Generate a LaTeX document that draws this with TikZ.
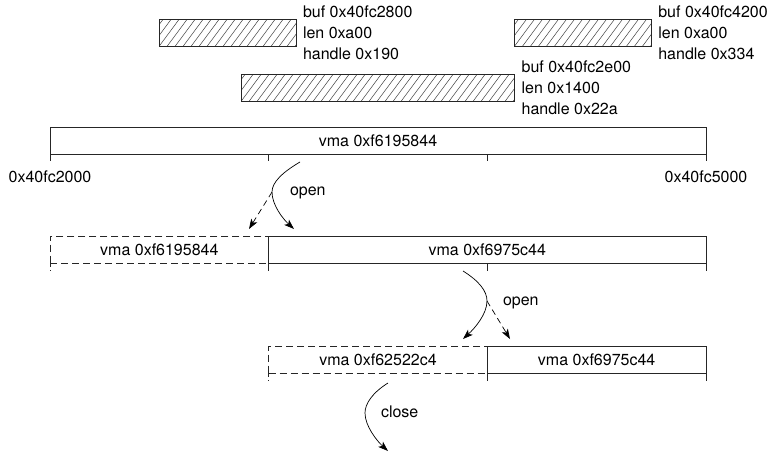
\documentclass[tikz,border=0pt]{standalone}
\usepackage{fontspec}
\setmainfont{TeX Gyre Heros}
\usetikzlibrary{arrows.meta,calc}
\begin{document}
\begin{tikzpicture}[x=1pt,y=-1pt,
  every node/.style={font=\fontsize{16}{21}\selectfont, inner sep=0pt, outer sep=0pt},
  ln/.style={line width=0.8pt, draw=black!85},
  vbox/.style={ln, draw, minimum height=27pt, anchor=north west},
  dbox/.style={vbox, dash pattern=on 7pt off 4pt},
  hbox/.style={vbox, path picture={
      \foreach \k in {-4,...,36}{
        \draw[line width=0.5pt, black!75] ([xshift=\k*8pt]path picture bounding box.south west) -- ++(20pt,27pt);
      }}},
  lbl/.style={anchor=west, align=left, xshift=7pt},
  tick/.style={ln},
  dtick/.style={ln, dash pattern=on 4pt off 3pt},
  arr/.style={line width=0.7pt, -{Stealth[length=10pt,width=7pt,inset=2.5pt]}},
  darr/.style={arr, dash pattern=on 6pt off 4pt}
]
\useasboundingbox (0,0) rectangle (769,453);

% hatched buffers
\node[hbox, minimum width=136.67pt] (h1) at (159.33,19) {};
\node[lbl] (t1) at (h1.east) {buf 0x40fc2800\\len 0xa00\\handle 0x190};
\node[hbox, minimum width=136.67pt] (h2) at (514.67,19) {};
\node[lbl] (t2) at (h2.east) {buf 0x40fc4200\\len 0xa00\\handle 0x334};
\node[hbox, minimum width=273.33pt] (h3) at (241.33,74) {};
\node[lbl] (t3) at (h3.east) {buf 0x40fc2e00\\len 0x1400\\handle 0x22a};

% row 1
\node[vbox, minimum width=656pt] (v1) at (50,127) {vma 0xf6195844};
\draw[tick] (v1.south west) -- ++(0,7);
\draw[tick] ($(v1.south west)!1/3!(v1.south east)$) -- ++(0,7);
\draw[tick] ($(v1.south west)!2/3!(v1.south east)$) -- ++(0,7);
\draw[tick] (v1.south east) -- ++(0,7);
\node[anchor=base] (a0) at (50,182) {0x40fc2000};
\node[anchor=base] (a5) at (706,182) {0x40fc5000};

% arrow 1
\coordinate (a1s) at (300,162);
\coordinate (a1m) at (272,192);
\coordinate (a1e) at (294,229);
\coordinate (a1d) at (249,229);
\draw[arr] (a1s) .. controls (283,172) and (272,182) .. (a1m) .. controls (272,205) and (283,219) .. (a1e);
\draw[darr] (a1m) -- (a1d);
\node[anchor=base west] (o1) at (290,195) {open};

% row 2
\node[dbox, minimum width=218.67pt] (d2) at (50,236) {vma 0xf6195844};
\node[vbox, minimum width=437.33pt] (s2) at (268.67,236) {vma 0xf6975c44};
\draw[dtick] (d2.south west) -- ++(0,7.5);
\draw[tick] (s2.south west) -- ++(0,7.5);
\draw[tick] ($(s2.south west)!.5!(s2.south east)$) -- ++(0,7.5);
\draw[tick] (s2.south east) -- ++(0,7.5);

% arrow 2
\coordinate (a2s) at (463,271);
\coordinate (a2m) at (487,301);
\coordinate (a2e) at (463,339);
\coordinate (a2d) at (510,339);
\draw[arr] (a2s) .. controls (479,281) and (487,291) .. (a2m) .. controls (487,314) and (475,328) .. (a2e);
\draw[darr] (a2m) -- (a2d);
\node[anchor=base west] (o2) at (503,305) {open};

% row 3
\node[dbox, minimum width=218.67pt] (d3) at (268.67,346) {vma 0xf62522c4};
\node[vbox, minimum width=218.67pt] (s3) at (487.33,346) {vma 0xf6975c44};
\draw[dtick] (d3.south west) -- ++(0,7.5);
\draw[tick] (s3.south west) -- ++(0,7.5);
\draw[tick] (s3.south east) -- ++(0,7.5);

% close arrow
\coordinate (a3s) at (388,383);
\coordinate (a3m) at (365,413);
\coordinate (a3e) at (388,451);
\draw[arr] (a3s) .. controls (372,393) and (365,404) .. (a3m) .. controls (365,426) and (377,441) .. (a3e);
\node[anchor=base west] (c3) at (381,417) {close};
\end{tikzpicture}
\end{document}
